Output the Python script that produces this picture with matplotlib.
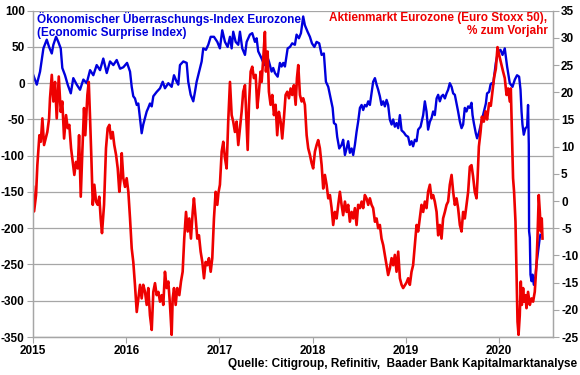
import matplotlib
matplotlib.use("Agg")
import matplotlib.pyplot as plt

# Citi Economic Surprise Index Eurozone (left axis), time in decimal years
surprise_t = [
    2015.003, 2015.040, 2015.075, 2015.111, 2015.147, 2015.172, 2015.201, 2015.218,
    2015.247, 2015.271, 2015.297, 2015.314, 2015.343, 2015.372, 2015.405, 2015.432,
    2015.469, 2015.504, 2015.540, 2015.576, 2015.612, 2015.647, 2015.683, 2015.719,
    2015.754, 2015.791, 2015.826, 2015.862, 2015.898, 2015.934, 2015.969, 2016.009,
    2016.041, 2016.059, 2016.076, 2016.094, 2016.113, 2016.130, 2016.148, 2016.166,
    2016.183, 2016.202, 2016.220, 2016.237, 2016.255, 2016.274, 2016.291, 2016.327,
    2016.363, 2016.392, 2016.416, 2016.452, 2016.488, 2016.513, 2016.542, 2016.559,
    2016.577, 2016.613, 2016.649, 2016.666, 2016.692, 2016.720, 2016.738, 2016.756,
    2016.792, 2016.810, 2016.827, 2016.856, 2016.881, 2016.907, 2016.942, 2016.978,
    2017.006, 2017.031, 2017.060, 2017.089, 2017.114, 2017.132, 2017.149, 2017.175,
    2017.203, 2017.221, 2017.246, 2017.275, 2017.293, 2017.328, 2017.353, 2017.382,
    2017.400, 2017.417, 2017.454, 2017.482, 2017.508, 2017.532, 2017.561, 2017.578,
    2017.597, 2017.626, 2017.650, 2017.668, 2017.686, 2017.704, 2017.733, 2017.758,
    2017.782, 2017.811, 2017.829, 2017.854, 2017.876, 2017.900, 2017.918, 2017.947,
    2017.972, 2017.994, 2018.020, 2018.044, 2018.072, 2018.098, 2018.122, 2018.144,
    2018.169, 2018.187, 2018.216, 2018.230, 2018.251, 2018.265, 2018.287, 2018.312,
    2018.329, 2018.348, 2018.366, 2018.383, 2018.401, 2018.420, 2018.437, 2018.455,
    2018.473, 2018.490, 2018.509, 2018.527, 2018.544, 2018.562, 2018.580, 2018.598,
    2018.616, 2018.634, 2018.651, 2018.670, 2018.688, 2018.705, 2018.723, 2018.741,
    2018.759, 2018.777, 2018.795, 2018.812, 2018.830, 2018.849, 2018.866, 2018.884,
    2018.902, 2018.920, 2018.938, 2018.956, 2018.981, 2019.002, 2019.027, 2019.045,
    2019.063, 2019.080, 2019.099, 2019.117, 2019.134, 2019.160, 2019.188, 2019.206,
    2019.224, 2019.241, 2019.260, 2019.278, 2019.295, 2019.313, 2019.332, 2019.349,
    2019.367, 2019.385, 2019.402, 2019.421, 2019.439, 2019.456, 2019.474, 2019.493,
    2019.510, 2019.528, 2019.546, 2019.563, 2019.582, 2019.600, 2019.617, 2019.635,
    2019.653, 2019.671, 2019.689, 2019.707, 2019.718, 2019.732, 2019.753, 2019.767,
    2019.789, 2019.814, 2019.839, 2019.861, 2019.874, 2019.896, 2019.911, 2019.922,
    2019.939, 2019.957, 2019.968, 2019.993, 2020.018, 2020.040, 2020.064, 2020.089,
    2020.118, 2020.147, 2020.172, 2020.196, 2020.218, 2020.233, 2020.244, 2020.254,
    2020.268, 2020.286, 2020.304, 2020.314, 2020.322, 2020.325, 2020.333, 2020.340,
    2020.351, 2020.362, 2020.376, 2020.394, 2020.404, 2020.421, 2020.440, 2020.447,
]
surprise_v = [
    11, -2, 16, 48, 60, 50, 41, 53,
    64, 57, 48, 21, 11, -2, -14, 7,
    -2, -9, 5, 0, 18, 11, 25, 18,
    34, 14, 30, 25, 32, 20, 22, 28,
    16, -5, -18, -21, -30, -28, -48, -69,
    -57, -48, -39, -34, -28, -32, -18, -12,
    -7, 2, -7, 0, -5, 11, 2, -2,
    25, 30, 28, 2, -16, -25, -12, 2,
    21, 30, 48, 46, 53, 64, 64, 57,
    48, 73, 57, 50, 64, 48, 71, 57,
    53, 71, 48, 39, 57, 67, 69, 57,
    62, 44, 34, 25, 39, 30, 16, 21,
    14, 9, 28, 23, 28, 23, 48, 50,
    55, 53, 67, 62, 69, 92, 80, 71,
    64, 55, 50, 57, 55, 39, 41, 2,
    -5, -16, -34, -55, -57, -74, -90, -85,
    -78, -99, -90, -80, -96, -90, -99, -85,
    -67, -53, -34, -30, -37, -30, -32, -25,
    -30, -14, 2, 7, -2, -9, -18, -30,
    -25, -32, -23, -30, -50, -57, -50, -60,
    -55, -62, -44, -65, -68, -72, -74, -85,
    -80, -87, -78, -80, -64, -60, -44, -25,
    -39, -64, -53, -48, -39, -44, -21, -16,
    -25, -18, -16, -21, -14, -9, 0, -5,
    -14, -16, -28, -39, -53, -62, -57, -34,
    -39, -32, -34, -27, -44, -55, -69, -76,
    -67, -53, -40, -28, -14, -12, -2, 0,
    -2, 16, 28, 44, 46, 39, 48, 23,
    0, -5, 5, 11, 9, -9, -39, -57,
    -71, -62, -60, -30, -85, -204, -213, -264,
    -273, -264, -278, -266, -250, -232, -213, -209,
]

# Euro Stoxx 50, % change year on year (right axis)
stoxx_t = [
    2015.000, 2015.011, 2015.032, 2015.046, 2015.068, 2015.083, 2015.100, 2015.118,
    2015.136, 2015.153, 2015.172, 2015.182, 2015.201, 2015.218, 2015.236, 2015.254,
    2015.276, 2015.297, 2015.314, 2015.333, 2015.354, 2015.372, 2015.389, 2015.408,
    2015.426, 2015.443, 2015.461, 2015.480, 2015.494, 2015.512, 2015.529, 2015.547,
    2015.561, 2015.583, 2015.598, 2015.612, 2015.626, 2015.641, 2015.658, 2015.676,
    2015.694, 2015.711, 2015.726, 2015.740, 2015.762, 2015.783, 2015.801, 2015.819,
    2015.837, 2015.855, 2015.872, 2015.891, 2015.909, 2015.926, 2015.941, 2015.952,
    2015.969, 2015.987, 2016.005, 2016.023, 2016.041, 2016.059, 2016.076, 2016.094,
    2016.113, 2016.130, 2016.148, 2016.166, 2016.183, 2016.202, 2016.220, 2016.237,
    2016.255, 2016.274, 2016.291, 2016.309, 2016.327, 2016.345, 2016.363, 2016.381,
    2016.398, 2016.416, 2016.435, 2016.452, 2016.470, 2016.488, 2016.499, 2016.513,
    2016.531, 2016.548, 2016.570, 2016.588, 2016.606, 2016.623, 2016.642, 2016.660,
    2016.677, 2016.695, 2016.714, 2016.727, 2016.746, 2016.763, 2016.781, 2016.799,
    2016.817, 2016.835, 2016.853, 2016.870, 2016.888, 2016.907, 2016.924, 2016.942,
    2016.960, 2016.978, 2016.990, 2017.006, 2017.025, 2017.042, 2017.060, 2017.078,
    2017.095, 2017.114, 2017.132, 2017.149, 2017.167, 2017.185, 2017.203, 2017.221,
    2017.239, 2017.256, 2017.275, 2017.293, 2017.304, 2017.318, 2017.336, 2017.353,
    2017.371, 2017.390, 2017.407, 2017.425, 2017.443, 2017.454, 2017.471, 2017.489,
    2017.500, 2017.518, 2017.532, 2017.550, 2017.568, 2017.586, 2017.604, 2017.621,
    2017.639, 2017.658, 2017.675, 2017.693, 2017.711, 2017.729, 2017.747, 2017.765,
    2017.782, 2017.800, 2017.819, 2017.833, 2017.847, 2017.865, 2017.883, 2017.900,
    2017.918, 2017.937, 2017.954, 2017.972, 2017.990, 2018.007, 2018.026, 2018.044,
    2018.061, 2018.079, 2018.098, 2018.115, 2018.133, 2018.151, 2018.169, 2018.187,
    2018.205, 2018.222, 2018.240, 2018.259, 2018.276, 2018.294, 2018.312, 2018.329,
    2018.348, 2018.366, 2018.383, 2018.401, 2018.420, 2018.437, 2018.455, 2018.473,
    2018.490, 2018.509, 2018.527, 2018.544, 2018.562, 2018.580, 2018.598, 2018.616,
    2018.634, 2018.651, 2018.670, 2018.688, 2018.705, 2018.723, 2018.741, 2018.759,
    2018.777, 2018.795, 2018.812, 2018.830, 2018.849, 2018.866, 2018.884, 2018.902,
    2018.920, 2018.938, 2018.956, 2018.973, 2018.991, 2019.009, 2019.027, 2019.045,
    2019.063, 2019.080, 2019.099, 2019.117, 2019.134, 2019.152, 2019.170, 2019.188,
    2019.206, 2019.224, 2019.241, 2019.260, 2019.278, 2019.295, 2019.313, 2019.332,
    2019.349, 2019.367, 2019.385, 2019.402, 2019.421, 2019.439, 2019.456, 2019.474,
    2019.493, 2019.510, 2019.528, 2019.546, 2019.563, 2019.582, 2019.600, 2019.617,
    2019.635, 2019.653, 2019.671, 2019.689, 2019.707, 2019.724, 2019.742, 2019.761,
    2019.772, 2019.786, 2019.804, 2019.818, 2019.839, 2019.857, 2019.874, 2019.896,
    2019.914, 2019.932, 2019.950, 2019.968, 2019.986, 2020.003, 2020.029, 2020.046,
    2020.064, 2020.083, 2020.100, 2020.118, 2020.129, 2020.143, 2020.153, 2020.164,
    2020.179, 2020.190, 2020.201, 2020.212, 2020.225, 2020.236, 2020.247, 2020.261,
    2020.272, 2020.286, 2020.297, 2020.314, 2020.333, 2020.351, 2020.368, 2020.386,
    2020.404, 2020.415, 2020.429, 2020.440, 2020.451, 2020.461, 2020.469,
]
stoxx_v = [
    2.6, -1.9, 1.1, 6.6, 12.1, 10.9, 15.2, 10.3,
    11.5, 12.7, 15.2, 18.9, 23.2, 18.3, 21.9, 15.2,
    22.9, 16.4, 18.3, 11.5, 15.8, 13.4, 14.0, 9.7,
    7.2, 4.8, 7.2, 6.0, 12.1, 0.8, 9.1, 17.1,
    12.1, 19.5, 21.9, 15.2, 7.9, -0.7, 3.0, -0.1,
    -0.7, 0.8, -3.2, -5.9, -0.7, 9.7, 13.4, 14.0,
    11.5, 12.7, 10.3, 8.5, 6.0, 1.7, 4.2, 8.8,
    4.2, 2.6, 4.2, 1.7, -3.2, -8.7, -11.2, -15.4,
    -20.4, -17.9, -15.4, -17.9, -15.4, -16.7, -19.1, -16.0,
    -21.0, -23.7, -16.7, -15.1, -17.3, -16.7, -18.5, -17.3,
    -19.1, -13.0, -16.0, -14.8, -19.1, -24.6, -17.9, -16.0,
    -19.1, -16.0, -17.3, -14.8, -13.0, -6.9, -2.0, -5.6,
    -3.2, -6.9, -2.0, 0.5, -3.2, -6.9, -6.3, -9.3,
    -11.2, -14.2, -11.2, -11.8, -10.5, -13.0, -10.5, -3.2,
    1.7, -0.7, 1.5, 3.0, 9.1, 10.9, 7.9, 6.0,
    14.6, 21.9, 15.8, 14.6, 12.7, 14.6, 10.3, 13.4,
    16.4, 20.1, 21.3, 14.0, 9.4, 17.7, 23.8, 24.7,
    22.6, 23.2, 17.1, 20.1, 23.8, 21.9, 26.2, 31.1,
    23.8, 27.5, 20.1, 17.7, 19.5, 15.8, 17.7, 12.1,
    16.4, 14.6, 11.5, 15.2, 19.5, 20.1, 18.9, 20.7,
    19.5, 21.3, 17.7, 22.6, 25.0, 19.5, 18.3, 18.9,
    17.7, 12.1, 9.7, 8.5, 7.0, 6.0, 9.1, 10.3,
    11.2, 9.7, 6.6, 2.3, 4.8, 3.0, 0.5, 1.1,
    -1.3, -4.4, -2.0, -3.2, -0.7, 1.7, -0.7, -2.6,
    -0.1, -2.0, -0.7, -3.8, -2.0, -3.2, -1.3, -4.4,
    -0.7, -1.3, -0.1, -1.3, 1.1, 0.5, -0.7, 0.5,
    -0.7, -1.3, -3.8, -3.2, -5.0, -4.4, -6.9, -8.1,
    -9.9, -11.8, -13.6, -12.4, -10.5, -11.8, -9.9, -13.0,
    -9.3, -14.2, -15.4, -16.0, -15.5, -15.0, -14.2, -15.4,
    -13.0, -11.8, -8.1, -4.4, -5.6, -3.2, -0.7, -2.0,
    -0.1, -1.3, 1.7, 3.0, 0.5, 1.1, -0.1, -2.0,
    -6.3, -4.4, -6.9, -3.2, -2.0, -0.7, -0.1, 3.0,
    4.8, 1.7, -0.7, 0.5, -1.3, -4.4, -5.6, -2.0,
    -3.2, -0.7, 1.7, 6.3, 6.6, 4.5, 1.7, 0.5,
    4.2, 10.0, 12.7, 15.5, 14.6, 16.5, 15.0, 18.0,
    17.5, 20.1, 22.8, 24.3, 28.3, 26.9, 25.0, 23.8,
    22.6, 19.5, 20.7, 18.3, 20.7, 11.5, 4.2, 1.7,
    -3.8, -13.0, -22.2, -24.6, -21.0, -14.8, -19.1, -16.0,
    -18.5, -17.3, -19.7, -16.7, -19.1, -17.9, -18.5, -16.7,
    -11.8, -6.9, 1.1, -1.9, -5.6, -3.2, -6.9,
]

years = [2015, 2016, 2017, 2018, 2019, 2020]
left_ticks = [-350, -300, -250, -200, -150, -100, -50, 0, 50, 100]
right_ticks = [-25, -20, -15, -10, -5, 0, 5, 10, 15, 20, 25, 30, 35]

blue = "#0000dd"
red = "#ee0000"
grey = "#a6a6a6"

plt.rcParams["font.family"] = ["Liberation Sans", "DejaVu Sans"]
plt.rcParams["font.weight"] = "bold"
plt.rcParams["font.size"] = 8.5

fig = plt.figure(figsize=(5.8, 3.75), dpi=100)
ax = fig.add_axes([0.057, 0.1013, 0.896, 0.8702])
ax2 = ax.twinx()

ax.plot(surprise_t, surprise_v, color=blue, lw=1.7)
ax2.plot(stoxx_t, stoxx_v, color=red, lw=1.9)

ax.set_xlim(2015, 2020.579)
ax.set_ylim(-350, 100)
ax2.set_ylim(-25, 35)
ax.set_xticks(years)
ax.set_xticklabels([str(y) for y in years], fontweight="bold")
ax.set_yticks(left_ticks)
ax.set_yticklabels([str(v) for v in left_ticks], fontweight="bold")
ax2.set_yticks(right_ticks)
ax2.set_yticklabels([str(v) for v in right_ticks], fontweight="bold")

ax.grid(axis="y", color=grey, lw=0.9)
ax.set_axisbelow(True)
for a in (ax, ax2):
    for s in a.spines.values():
        s.set_color(grey)
        s.set_linewidth(0.9)
    a.tick_params(direction="out", length=4, color=grey, labelcolor="black",
                  labelsize=8.5, pad=2)
ax.spines["top"].set_visible(False)
ax2.spines["top"].set_visible(False)

ax.text(0.008, 0.995, "Ökonomischer Überraschungs-Index Eurozone\n(Economic Surprise Index)",
        transform=ax.transAxes, ha="left", va="top", color=blue,
        fontsize=8.5, fontweight="bold", linespacing=1.05)
ax.text(0.99, 0.995, "Aktienmarkt Eurozone (Euro Stoxx 50),\n% zum Vorjahr",
        transform=ax.transAxes, ha="right", va="top", color=red,
        fontsize=8.5, fontweight="bold", linespacing=1.05, multialignment="right")
fig.text(0.995, 0.03, "Quelle: Citigroup, Refinitiv,  Baader Bank Kapitalmarktanalyse",
         ha="right", va="center", fontsize=8.5, fontweight="bold")

fig.savefig("out.png", dpi=100)
